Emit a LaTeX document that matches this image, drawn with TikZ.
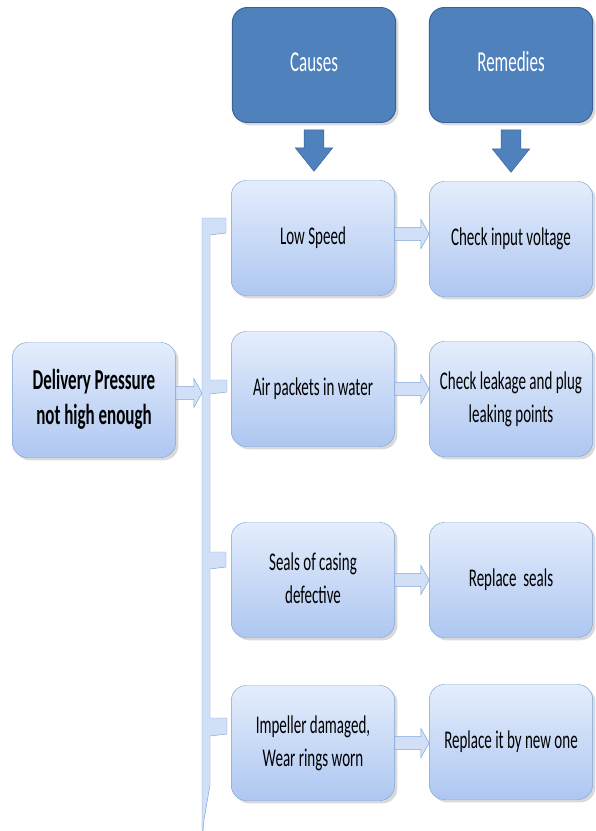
\documentclass[tikz,border=0pt]{standalone}
\usepackage{fontspec}
\usepackage{graphicx}
\setmainfont{Carlito}
\usetikzlibrary{calc,shadows}

\definecolor{headblue}{HTML}{4F81BD}
\definecolor{headline}{HTML}{3A6196}
\definecolor{boxtop}{HTML}{E4EDFC}
\definecolor{boxbottom}{HTML}{AEC7F1}
\definecolor{boxline}{HTML}{7FA3D6}
\definecolor{barfill}{HTML}{D2E0F7}

\newcommand\tall[1]{\scalebox{1}[1.7]{\begin{tabular}{@{}c@{}}#1\end{tabular}}}

\begin{document}
\begin{tikzpicture}[
	x=0.03cm, y=-0.03cm,
	header/.style={ rectangle, rounded corners=0.45cm, draw=headline, thick, fill=headblue, text=white, minimum width=4.9cm, minimum height=3.45cm, drop shadow={opacity=0.3}, font=\fontsize{14.5}{17.5}\selectfont },
	item/.style={ rectangle, rounded corners=0.45cm, draw=boxline, top color=boxtop, bottom color=boxbottom, minimum width=4.9cm, minimum height=3.45cm, drop shadow={opacity=0.3}, font=\fontsize{12.8}{16.5}\selectfont },
	flat/.style={ draw=boxline, fill=barfill, line join=miter },
	sidearrow/.style={ flat, to path={ let \p1=(\tikztostart), \p2=(\tikztotarget) in
		(\x1,\y1+5.5pt) -- (\x2-7pt,\y1+5.5pt) -- (\x2-7pt,\y1+12.5pt) -- (\x2,\y1)
		-- (\x2-7pt,\y1-12.5pt) -- (\x2-7pt,\y1-5.5pt) -- (\x1,\y1-5.5pt) -- cycle } },
	downarrow/.style={ draw=headline, fill=headblue, line join=miter, to path={ let \p1=(\tikztostart), \p2=(\tikztotarget) in
		(\x1-8.5pt,\y1) -- (\x1+8.5pt,\y1) -- (\x1+8.5pt,\y2+20pt) -- (\x1+16pt,\y2+20pt) -- (\x1,\y2)
		-- (\x1-16pt,\y2+20pt) -- (\x1-8.5pt,\y2+20pt) -- cycle } }
]
\useasboundingbox (0,0) rectangle (596,831);

\node at (314,65) (causes) [header] {\tall{Causes}};
\node at (511,65) (remedies) [header] {\tall{Remedies}};

\node at (94,400) (problem) [item,font=\fontsize{14.5}{17.5}\selectfont\bfseries] {\tall{Delivery Pressure\\not high enough}};

\node at (313,238) (c1) [item] {\tall{Low Speed}};
\node at (313,389) (c2) [item] {\tall{Air packets in water}};
\node at (313,580) (c3) [item] {\tall{Seals of casing\\defective}};
\node at (313,743) (c4) [item] {\tall{Impeller damaged,\\Wear rings worn}};

\node at (511,239) (r1) [item] {\tall{Check input voltage}};
\node at (511,399) (r2) [item] {\tall{Check leakage and plug\\leaking points}};
\node at (511,580) (r3) [item] {\tall{Replace\ \ seals}};
\node at (511,742) (r4) [item] {\tall{Replace it by new one}};

\draw[downarrow] ([yshift=-0.21cm]causes.south) to ([yshift=0.27cm]c1.north);
\draw[downarrow] ([yshift=-0.21cm]remedies.south) to ([yshift=0.27cm]r1.north);

% bracket joining the causes
\draw[flat] (202,218) -- (226,218) -- (226,233) -- (210,235) -- (210,380) -- (227,380) -- (227,392)
	-- (210,394) -- (210,552) -- (226,552) -- (226,567) -- (210,569) -- (210,718) -- (227,718)
	-- (227,734) -- (210,736) -- (210,785) -- (204,820) -- (203,831) -- (202,831) -- cycle;
\coordinate (spine) at (202,393);
\draw[sidearrow] (problem.east |- spine) to (spine);

\draw[sidearrow] ([yshift=0.12cm]c1.east) to (r1.west);
\draw[sidearrow] (c2.east) to (r2.west);
\draw[sidearrow] (c3.east) to (r3.west);
\draw[sidearrow] (c4.east) to (r4.west);

\end{tikzpicture}
\end{document}
